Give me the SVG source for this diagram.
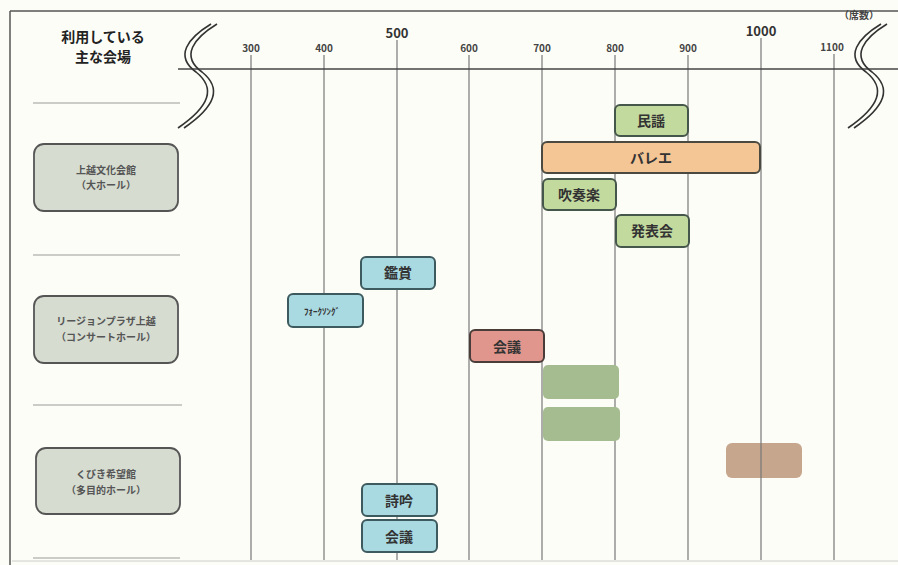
<svg xmlns="http://www.w3.org/2000/svg" width="898" height="565" viewBox="0 0 898 565">
<style>
text{font-family:"Noto Sans CJK JP","Noto Sans",sans-serif;font-weight:bold;fill:#333;text-anchor:middle}
.grid{stroke:#777;stroke-width:1.2;fill:none}
.tick{font-size:10px;fill:#444}
.big{font-size:13px;fill:#333}
.sep{stroke:#999;stroke-width:1.2}
.venue rect{fill:#d6dcd0;stroke:#555;stroke-width:1.8}
.venue text{font-size:10px;fill:#555}
.bar text{font-size:14px}
.g rect{fill:#c3da9f;stroke:#45574a;stroke-width:2}
.o rect{fill:#f4c595;stroke:#4a4a40;stroke-width:2}
.b rect{fill:#a9d9e1;stroke:#3d5a5e;stroke-width:2}
.r rect{fill:#e0968c;stroke:#4a3c38;stroke-width:2}
.brk{stroke:#333;stroke-width:1.6;fill:none}
</style>
<rect x="0" y="0" width="898" height="565" fill="#fdfdf7"/>
<line x1="10" y1="11" x2="898" y2="11" stroke="#555" stroke-width="1.5"/>
<line x1="10" y1="11" x2="10" y2="565" stroke="#555" stroke-width="1.5"/>
<line x1="12" y1="561" x2="898" y2="561" stroke="#ccc" stroke-width="1"/>

<g id="header">
<text x="103" y="42" style="font-size:14px;fill:#222">利用している</text>
<text x="103" y="62" style="font-size:14px;fill:#222">主な会場</text>
<text x="859" y="19" style="font-size:10px;fill:#444">（席数）</text>
</g>

<g id="axis">
<g class="grid">
<line x1="251" y1="55" x2="251" y2="560"/>
<line x1="324" y1="55" x2="324" y2="560"/>
<line x1="397" y1="40" x2="397" y2="560"/>
<line x1="469" y1="55" x2="469" y2="560"/>
<line x1="542" y1="55" x2="542" y2="560"/>
<line x1="615" y1="55" x2="615" y2="560"/>
<line x1="688" y1="55" x2="688" y2="560"/>
<line x1="761" y1="38" x2="761" y2="560"/>
<line x1="834" y1="54" x2="834" y2="560"/>
</g>
<line x1="178" y1="69" x2="898" y2="69" stroke="#444" stroke-width="1.5"/>
<text class="tick" x="251" y="52">300</text>
<text class="tick" x="324" y="52">400</text>
<text class="big" x="397" y="38">500</text>
<text class="tick" x="469" y="52">600</text>
<text class="tick" x="542" y="52">700</text>
<text class="tick" x="615" y="52">800</text>
<text class="tick" x="688" y="52">900</text>
<text class="big" x="761" y="36">1000</text>
<text class="tick" x="832" y="51">1100</text>
</g>

<g id="breaks">
<path class="brk" d="M211,24 C188,38 174,56 196,72 C216,88 210,106 178,128"/>
<path class="brk" d="M217,24 C194,38 180,56 202,72 C222,88 216,106 184,128"/>
<path class="brk" d="M881,24 C858,38 844,56 866,72 C886,88 880,106 848,128"/>
<path class="brk" d="M887,24 C864,38 850,56 872,72 C892,88 886,106 854,128"/>
</g>

<g id="separators">
<line class="sep" x1="33" y1="103" x2="180" y2="103"/>
<line class="sep" x1="33" y1="255" x2="180" y2="255"/>
<line class="sep" x1="33" y1="405" x2="182" y2="405"/>
<line class="sep" x1="33" y1="558" x2="180" y2="558"/>
</g>

<g id="venue1" class="venue">
<rect x="34" y="144" width="144" height="67" rx="10"/>
<text x="106" y="174">上越文化会館</text>
<text x="106" y="189">（大ホール）</text>
</g>
<g id="venue2" class="venue">
<rect x="34" y="296" width="144" height="67" rx="10"/>
<text x="106" y="325">リージョンプラザ上越</text>
<text x="106" y="341">（コンサートホール）</text>
</g>
<g id="venue3" class="venue">
<rect x="36" y="448" width="144" height="66" rx="10"/>
<text x="106" y="478">くびき希望館</text>
<text x="106" y="494">（多目的ホール）</text>
</g>

<g id="bar-minyo" class="bar g"><rect x="615" y="105" width="73" height="31" rx="5"/><text x="651" y="126">民謡</text></g>
<g id="bar-ballet" class="bar o"><rect x="542" y="142" width="218" height="31" rx="5"/><text x="651" y="163">バレエ</text></g>
<g id="bar-suisogaku" class="bar g"><rect x="543" y="179" width="73" height="31" rx="5"/><text x="579" y="200">吹奏楽</text></g>
<g id="bar-happyokai" class="bar g"><rect x="616" y="215" width="73" height="32" rx="5"/><text x="652" y="236">発表会</text></g>
<g id="bar-kansho" class="bar b"><rect x="361" y="257" width="74" height="32" rx="5"/><text x="398" y="278">鑑賞</text></g>
<g id="bar-folk" class="bar b"><rect x="288" y="294" width="75" height="33" rx="5"/><text x="322" y="315" style="font-size:9px">ﾌｫｰｸｿﾝｸﾞ</text></g>
<g id="bar-kaigi1" class="bar r"><rect x="470" y="330" width="74" height="32" rx="5"/><text x="507" y="352">会議</text></g>
<g id="bar-blank1"><rect x="543" y="365" width="76" height="34" rx="5" fill="#a5bc90"/></g>
<g id="bar-blank2"><rect x="543" y="407" width="77" height="34" rx="5" fill="#a5bc90"/></g>
<g id="bar-blank3"><rect x="726" y="443" width="76" height="35" rx="6" fill="#c6a68c"/><line x1="761" y1="443" x2="761" y2="478" stroke="#777" stroke-width="1.2"/></g>
<g id="bar-shigin" class="bar b"><rect x="362" y="484" width="75" height="32" rx="5"/><text x="399" y="506">詩吟</text></g>
<g id="bar-kaigi2" class="bar b"><rect x="362" y="520" width="75" height="32" rx="5"/><text x="399" y="542">会議</text></g>
</svg>
